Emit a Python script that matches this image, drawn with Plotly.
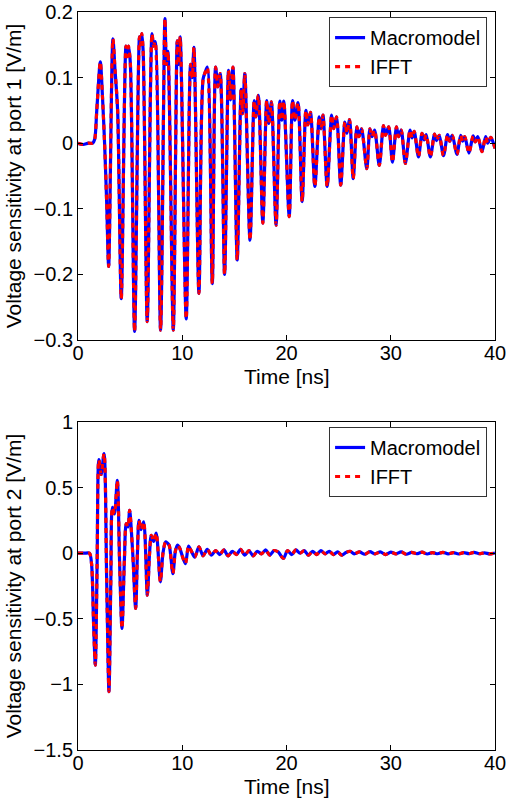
import plotly.graph_objects as go

# ---- Port 1 (top panel): time [ns] and voltage sensitivity [V/m]
t1 = [0, 0.5, 1.0, 1.4, 1.6, 1.8, 2.14, 2.35, 2.55, 2.75, 2.94,
      3.35, 3.55, 3.8, 4.15,
      4.6, 4.72, 4.85, 5.02, 5.43,
      5.9, 6.0, 6.12, 6.25, 6.64,
      7.1, 7.25, 7.4, 7.92,
      8.34, 8.48, 8.62, 9.14,
      9.52, 9.65, 9.8, 10.38,
      10.8, 10.96, 11.12, 11.6,
      12.0, 12.2, 12.4, 12.88,
      13.2, 13.42, 13.64, 14.06,
      14.44, 14.63, 14.86, 15.27,
      15.65, 15.8, 16.0, 16.5,
      16.9, 17.05, 17.3, 17.73,
      18.1, 18.3, 18.55, 19.0,
      19.36, 19.55, 19.74, 20.26,
      20.58, 20.8, 21.1, 21.5,
      21.86, 22.05, 22.3, 22.72,
      23.14, 23.32, 23.5, 23.9,
      24.33, 24.52, 24.8, 25.2,
      25.6, 25.8, 26.05, 26.4,
      26.75, 26.95, 27.2, 27.7,
      28.0, 28.2, 28.45, 28.9,
      29.3, 29.5, 29.8, 30.16,
      30.55, 30.75, 31.0, 31.4,
      31.85, 32.05, 32.25, 32.66,
      33.0, 33.2, 33.4, 33.8,
      34.2, 34.4, 34.65, 35.06,
      35.45, 35.65, 35.9, 36.35,
      36.7, 36.9, 37.1, 37.5,
      37.9, 38.1, 38.35, 38.75,
      39.1, 39.3, 39.6, 40.0]
v1 = [0, -0.002, 0, 0.0, 0.006, 0.05, 0.124, 0.07, 0.0, -0.09, -0.188,
      0.159, 0.112, 0.05, -0.237,
      0.148, 0.132, 0.148, 0.122, -0.287,
      0.162, 0.150, 0.167, 0.14, -0.272,
      0.167, 0.148, 0.155, -0.285,
      0.19, 0.12, 0.14, -0.285,
      0.156, 0.12, 0.162, -0.268,
      0.12, 0.10, 0.146, -0.229,
      0.098, 0.108, 0.116, -0.214,
      0.116, 0.086, 0.106, -0.2,
      0.111, 0.066, 0.116, -0.178,
      0.082, 0.045, 0.106, -0.148,
      0.065, 0.04, 0.073, -0.122,
      0.065, 0.03, 0.063, -0.125,
      0.064, 0.035, 0.064, -0.112,
      0.065, 0.035, 0.062, -0.089,
      0.05, 0.028, 0.047, -0.066,
      0.04, 0.022, 0.043, -0.066,
      0.043, 0.022, 0.04, -0.064,
      0.032, 0.015, 0.036, -0.054,
      0.025, 0.01, 0.022, -0.039,
      0.022, 0.01, 0.02, -0.034,
      0.027, 0.012, 0.025, -0.029,
      0.025, 0.01, 0.02, -0.031,
      0.02, 0.008, 0.018, -0.021,
      0.015, 0.005, 0.013, -0.021,
      0.014, 0.004, 0.012, -0.019,
      0.013, 0.003, 0.012, -0.017,
      0.012, 0.003, 0.01, -0.015,
      0.011, 0.002, 0.01, -0.013,
      0.01, 0.0, 0.009, -0.008]

# ---- Port 2 (bottom panel)
t2 = [0, 0.6, 1.1, 1.3, 1.5, 1.66, 1.83, 2.0, 2.22, 2.5, 2.75, 2.97,
      3.15, 3.3, 3.5, 3.77, 4.0, 4.22, 4.45, 4.63, 4.8, 4.95, 5.25, 5.53,
      5.7, 5.85, 6.05, 6.3, 6.65, 6.85, 7.03, 7.25, 7.5, 7.9,
      8.15, 8.4, 8.57, 8.75, 9.1, 9.35, 9.55, 9.75, 10.3, 10.6, 10.85, 11.2, 11.6,
      12.0, 12.4, 12.8, 13.2, 13.6, 14.0, 14.4, 14.8, 15.2, 15.6, 16.0, 16.4,
      16.8, 17.2, 17.6, 18.0, 18.4, 18.8, 19.2, 19.7, 20.1, 20.5, 20.9, 21.3,
      21.7, 22.1, 22.5, 22.9, 23.3, 23.7, 24.1, 24.5, 24.9, 25.3, 25.7, 26.1,
      26.5, 27.0, 27.5, 28.0, 28.5, 29.0, 29.5, 30.0, 30.5, 31.0, 31.5, 32.0,
      32.5, 33.0, 33.5, 34.0, 34.5, 35.0, 35.5, 36.0, 36.5, 37.0, 37.5, 38.0,
      38.5, 39.0, 39.5, 40.0]
v2 = [0, 0, 0, -0.08, -0.55, -0.853, -0.1, 0.713, 0.6, 0.76, -0.2, -1.055,
      -0.2, 0.35, 0.3, 0.556, -0.1, -0.574, -0.05, 0.226, 0.2, 0.327, 0.0, -0.421,
      0.0, 0.25, 0.18, 0.24, -0.32, -0.02, 0.137, 0.09, 0.154, -0.218,
      0.0, 0.086, 0.078, 0.06, -0.155, 0.02, 0.062, 0.04, -0.08, 0.055, 0.02, -0.03, 0.048,
      -0.02, 0.03, -0.015, 0.02, -0.01, 0.025, -0.02, 0.015, -0.01, 0.03, -0.015, 0.02,
      -0.02, 0.015, -0.005, 0.025, -0.015, 0.02, 0.01, -0.04, 0.02, -0.01, 0.025, 0.0,
      0.02, -0.015, 0.015, -0.01, 0.02, -0.005, 0.015, -0.01, 0.01, -0.015, 0.005, 0.015,
      -0.005, 0.01, -0.008, 0.012, -0.005, 0.01, -0.01, 0.008, -0.005, 0.01, -0.008, 0.006,
      -0.004, 0.008, -0.006, 0.005, -0.004, 0.007, -0.005, 0.005, -0.006, 0.004, -0.003, 0.006,
      -0.004, 0.003, -0.005, 0.002]

series_names = ["Macromodel", "IFFT"]
x_ticks = [0, 10, 20, 30, 40]
y1_ticks = [0.2, 0.1, 0, -0.1, -0.2, -0.3]
y2_ticks = [1, 0.5, 0, -0.5, -1, -1.5]
x_title = "Time [ns]"
y_titles = ["Voltage sensitivity at port 1 [V/m]", "Voltage sensitivity at port 2 [V/m]"]

FONT = "Liberation Sans, Arial, Helvetica, sans-serif"
fig = go.Figure()

for t, v, xa, ya, lg in [(t1, v1, "x", "y", "legend"), (t2, v2, "x2", "y2", "legend2")]:
    fig.add_trace(go.Scatter(x=t, y=v, mode="lines", name=series_names[0],
                             line=dict(color="#0000ff", width=3.2, shape="spline", smoothing=0.8),
                             xaxis=xa, yaxis=ya, legend=lg))
    fig.add_trace(go.Scatter(x=t, y=v, mode="lines", name=series_names[1],
                             line=dict(color="#ff0000", width=3.2, dash="5px,5px", shape="spline", smoothing=0.8),
                             xaxis=xa, yaxis=ya, legend=lg))

axis_common = dict(showline=True, linecolor="black", linewidth=1, mirror="ticks",
                   ticks="inside", ticklen=5, tickcolor="black", showgrid=False,
                   zeroline=False, automargin=False,
                   tickfont=dict(family=FONT, size=20, color="black"))

fig.update_layout(
    width=508, height=799,
    margin=dict(l=78, r=13, t=12, b=49),
    paper_bgcolor="white", plot_bgcolor="white",
    font=dict(family=FONT, size=20, color="black"),
    xaxis=dict(domain=[0, 1], anchor="y", range=[0, 40], tickvals=x_ticks,
               ticklabelstandoff=-5, **axis_common),
    yaxis=dict(domain=[0.5556, 1], anchor="x", range=[-0.3, 0.2], tickvals=y1_ticks,
               title=dict(text=y_titles[0], standoff=6, font=dict(size=21)),
               **axis_common),
    xaxis2=dict(domain=[0, 1], anchor="y2", range=[0, 40], tickvals=x_ticks,
                ticklabelstandoff=-5, **axis_common),
    yaxis2=dict(domain=[0, 0.4444], anchor="x2", range=[-1.5, 1], tickvals=y2_ticks,
                title=dict(text=y_titles[1], standoff=6, font=dict(size=21)),
                **axis_common),
    legend=dict(x=0.981, y=0.993, xanchor="right", yanchor="top", bgcolor="white",
                bordercolor="#333333", borderwidth=1, font=dict(size=20),
                tracegroupgap=0, itemwidth=30),
    legend2=dict(x=0.981, y=0.4377, xanchor="right", yanchor="top", bgcolor="white",
                 bordercolor="#333333", borderwidth=1, font=dict(size=20),
                 tracegroupgap=0, itemwidth=30),
    showlegend=True,
    annotations=[
        dict(text=x_title, xref="paper", yref="paper", x=0.5, y=(750 - 376) / 738,
             xanchor="center", yanchor="middle", showarrow=False, font=dict(size=21)),
        dict(text=x_title, xref="paper", yref="paper", x=0.5, y=(750 - 786) / 738,
             xanchor="center", yanchor="middle", showarrow=False, font=dict(size=21)),
    ],
)

fig.write_html("out.html", config={"displayModeBar": False},
               post_script="document.body.style.margin='0px';")
